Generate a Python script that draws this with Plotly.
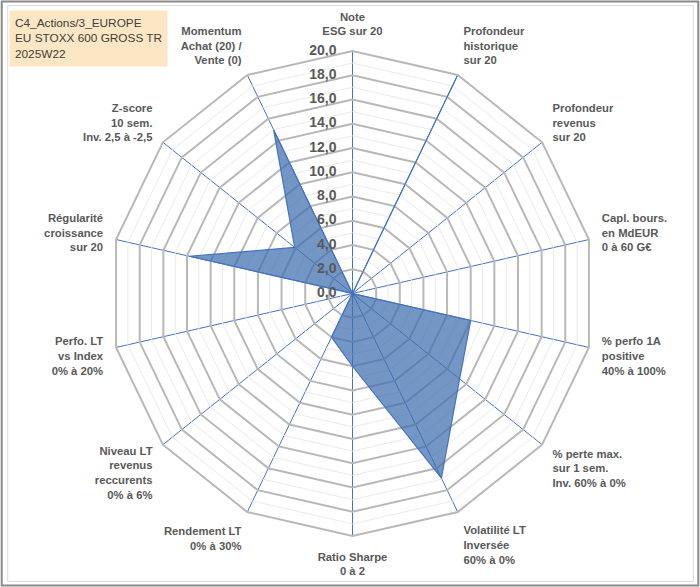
import plotly.graph_objects as go

categories = [
    "Note<br>ESG sur 20",
    "Profondeur<br>historique<br>sur 20",
    "Profondeur<br>revenus<br>sur 20",
    "Capl. bours.<br>en MdEUR<br>0 à 60 G€",
    "% perfo 1A<br>positive<br>40% à 100%",
    "% perte max.<br>sur 1 sem.<br>Inv. 60% à 0%",
    "Volatilité LT<br>Inversée<br>60% à 0%",
    "Ratio Sharpe<br>0 à 2",
    "Rendement LT<br>0% à 30%",
    "Niveau LT<br>revenus<br>reccurents<br>0% à 6%",
    "Perfo. LT<br>vs Index<br>0% à 20%",
    "Régularité<br>croissance<br>sur 20",
    "Z-score<br>10 sem.<br>Inv. 2,5 à -2,5",
    "Momentum<br>Achat (20) /<br>Vente (0)",
]
values = [0, 20, 0, 0, 10.0, 11.3, 16.9, 6.0, 4.0, 0, 0, 13.8, 6.1, 15.0]

radial_ticks = list(range(0, 21))
label_ticks = [v for v in radial_ticks if v % 2 == 0]
major_ticks = [v for v in label_ticks if 0 < v < 20]
label_text = [f"{v},0" for v in label_ticks]

title_lines = ["C4_Actions/3_EUROPE", "EU STOXX 600 GROSS TR", "2025W22"]

W, H = 700, 587
cx, cy, rad = 352.5, 293.5, 243
ml, mr = cx - rad, W - cx - rad
mt, mb = cy - rad, H - cy - rad
pw, ph = W - ml - mr, H - mt - mb


def px(x):
    return (x - ml) / pw


def py(y):
    return 1 - (y - mt) / ph


label_font = dict(family="Liberation Sans", size=11.3, color="#595959", weight="bold")
closed = categories + [categories[0]]

fig = go.Figure()

# major polygon gridlines (every 2)
for v in major_ticks:
    fig.add_trace(go.Scatterpolar(
        r=[v] * len(closed), theta=closed, mode="lines",
        line=dict(color="#B8B8B8", width=2),
        hoverinfo="skip", showlegend=False))

fig.add_trace(go.Scatterpolar(
    r=values + [values[0]], theta=closed, mode="lines",
    fill="toself", fillcolor="rgba(62,110,173,0.72)",
    line=dict(color="#4472C4", width=1.2),
    name="Score", showlegend=False))

# radial value labels, left of the top spoke
# (kept just inside the range so the end labels are not dropped)
fig.add_trace(go.Scatterpolar(
    r=[min(max(v, 0.001), 19.999) for v in label_ticks],
    theta=[categories[0]] * len(label_ticks),
    mode="markers+text", text=label_text, textposition="middle left",
    marker=dict(size=24, color="rgba(0,0,0,0)"), cliponaxis=False,
    textfont=dict(family="Liberation Sans", size=14, color="#595959",
                  weight="bold"),
    hoverinfo="skip", showlegend=False))

fig.update_layout(
    width=W, height=H,
    margin=dict(l=ml, r=mr, t=mt, b=mb),
    paper_bgcolor="white",
    font=dict(family="Liberation Sans", color="#595959"),
    polar=dict(
        bgcolor="white",
        gridshape="linear",
        domain=dict(x=[0, 1], y=[0, 1]),
        radialaxis=dict(
            range=[0, 20], tickvals=radial_ticks, showticklabels=False,
            angle=90, showline=False, ticks="",
            gridcolor="#EAEAEA", gridwidth=1,
        ),
        angularaxis=dict(
            direction="clockwise", rotation=90,
            gridcolor="#4472C4", gridwidth=1,
            linecolor="#B8B8B8", linewidth=2,
            ticks="outside", ticklen=10, tickcolor="rgba(0,0,0,0)",
            tickfont=label_font,
        ),
    ),
    annotations=[dict(
        text="<br>".join(title_lines), xref="paper", yref="paper",
        x=px(8), y=py(9), xanchor="left", yanchor="top", align="left",
        showarrow=False, bgcolor="#FCE6C3", borderpad=5,
        font=dict(family="Liberation Sans", size=11.8, color="#404040"),
    )],
    shapes=[
        dict(type="rect", xref="paper", yref="paper",
             x0=px(7), x1=px(694), y0=py(5), y1=py(582),
             line=dict(color="#DADADA", width=1)),
        dict(type="rect", xref="paper", yref="paper",
             x0=px(1), x1=px(699), y0=py(1), y1=py(586),
             line=dict(color="#8A8A8A", width=2)),
    ],
)

fig.write_html("out.html", config={"displayModeBar": False},
               post_script="document.body.style.margin='0';")
